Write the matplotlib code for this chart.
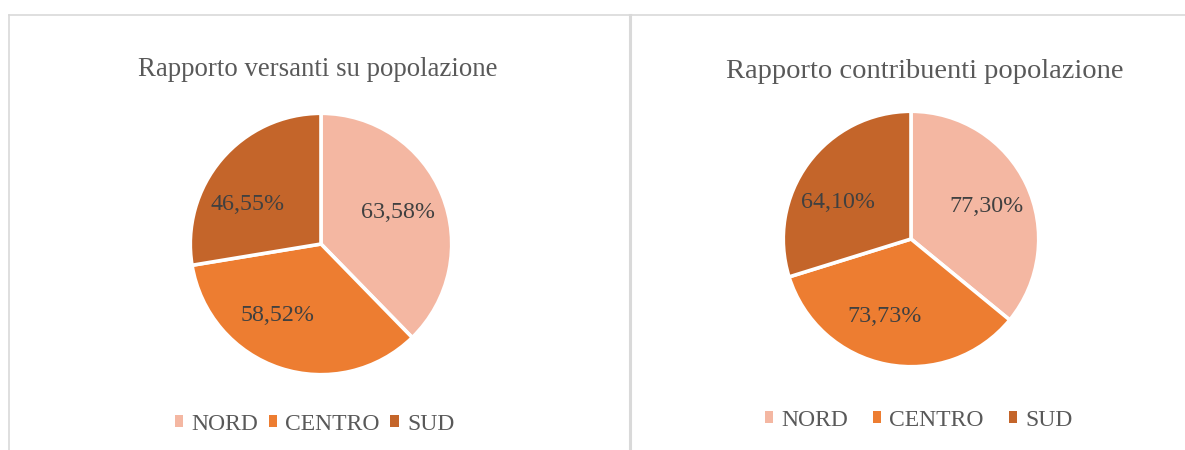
import numpy as np
import matplotlib
matplotlib.use("Agg")
import matplotlib.pyplot as plt
from matplotlib.lines import Line2D

plt.rcParams['font.family'] = ['Liberation Serif', 'DejaVu Serif']

regions = ['NORD', 'CENTRO', 'SUD']
versanti = [63.58, 58.52, 46.55]
contribuenti = [77.30, 73.73, 64.10]
titles = ['Rapporto versanti su popolazione', 'Rapporto contribuenti popolazione']

colors = ['#F4B7A2', '#ED7D31', '#C4652A']

W, H = 1185, 450
fig = plt.figure(figsize=(W / 100, H / 100), dpi=100)


def px_axes(cx, cy, r):
    return fig.add_axes([(cx - r) / W, (H - cy - r) / H, 2 * r / W, 2 * r / H])


def draw_pie(ax, values, label_shift):
    wedges, _ = ax.pie(values, colors=colors, startangle=90, counterclock=False,
                       wedgeprops=dict(edgecolor='white', linewidth=2.6))
    for w, v, s in zip(wedges, values, label_shift):
        ang = np.deg2rad((w.theta1 + w.theta2) / 2 + s)
        ax.text(0.64 * np.cos(ang), 0.64 * np.sin(ang),
                f'{v:.2f}%'.replace('.', ','), ha='center', va='center',
                fontsize=17.3, color='#404040')
    ax.set_xlim(-1.01, 1.01)
    ax.set_ylim(-1.01, 1.01)
    ax.axis('off')
    return wedges


# panel borders
border = '#D9D9D9'
fig.add_artist(Line2D([8.5 / W, 1.0], [1 - 14.5 / H, 1 - 14.5 / H], color=border, lw=1.2))
fig.add_artist(Line2D([8.5 / W, 8.5 / W], [0, 1 - 14.5 / H], color=border, lw=1.2))
fig.add_artist(Line2D([629.5 / W, 629.5 / W], [0, 1 - 14.5 / H], color=border, lw=2.2))

ax1 = px_axes(321, 244, 132)
w1 = draw_pie(ax1, versanti, [0, -13, 12])
ax2 = px_axes(911, 239, 129)
w2 = draw_pie(ax2, contribuenti, [-2, -8, 10])

fig.text(317.5 / W, 1 - 76 / H, titles[0], ha='center', va='baseline',
         fontsize=19.3, color='#595959')
fig.text(924.5 / W, 1 - 77.5 / H, titles[1], ha='center', va='baseline',
         fontsize=20.5, color='#595959')

for wedges, cx, cy, gap in [(w1, 314.5, 424, 0.45), (w2, 918.5, 420, 1.05)]:
    leg = fig.legend(wedges, regions, loc='center', ncol=3,
                     bbox_to_anchor=(cx / W, 1 - cy / H), frameon=False,
                     fontsize=17, handlelength=0.35, handleheight=0.35,
                     handletextpad=0.35, columnspacing=gap, borderpad=0)
    for t in leg.get_texts():
        t.set_color('#595959')
    for h in leg.legend_handles:
        h.set_linewidth(0)

fig.savefig('out.png', dpi=100, facecolor='white')
